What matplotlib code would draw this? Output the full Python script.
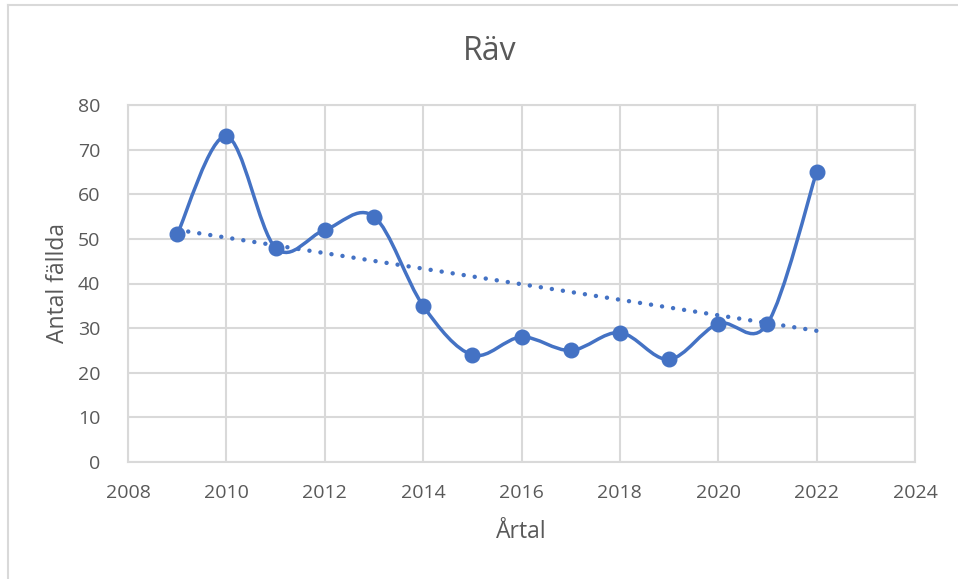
import numpy as np
import matplotlib
matplotlib.use('Agg')
import matplotlib.pyplot as plt
from matplotlib.path import Path
from matplotlib.patches import PathPatch
from matplotlib.lines import Line2D

plt.rcParams['font.family'] = ['Open Sans', 'DejaVu Sans']

years = [2009, 2010, 2011, 2012, 2013, 2014, 2015, 2016, 2017, 2018, 2019, 2020, 2021, 2022]
antal = [51, 73, 48, 52, 55, 35, 24, 28, 25, 29, 23, 31, 31, 65]
x_ticks = [2008, 2010, 2012, 2014, 2016, 2018, 2020, 2022, 2024]
y_ticks = [0, 10, 20, 30, 40, 50, 60, 70, 80]

blue = '#4472C4'
grid = '#d9d9d9'
text = '#595959'

W, H = 958, 579
fig = plt.figure(figsize=(W / 100, H / 100), dpi=100)
ax = fig.add_axes([128 / W, 1 - 462 / H, (915 - 128) / W, (462 - 105) / H])

# smoothed line like Excel (bezier segments through the points)
x = np.array(years, dtype=float)
y = np.array(antal, dtype=float)
pts = np.column_stack([x, y])
verts = [pts[0]]
codes = [Path.MOVETO]
n = len(pts)
for i in range(n - 1):
    p0 = pts[i - 1] if i > 0 else pts[i]
    p1 = pts[i]
    p2 = pts[i + 1]
    p3 = pts[i + 2] if i + 2 < n else pts[i + 1]
    c1 = p1 + (p2 - p0) / 6
    c2 = p2 - (p3 - p1) / 6
    verts += [c1, c2, p2]
    codes += [Path.CURVE4] * 3
ax.add_patch(PathPatch(Path(verts, codes), fill=False, edgecolor=blue, lw=2.5,
                       capstyle='round', joinstyle='round', zorder=3))
ax.plot(years, antal, 'o', color=blue, markersize=10.5, zorder=4)

# linear trend line
k, m = np.polyfit(x, y, 1)
tx = np.array([years[0], years[-1]])
ax.plot(tx, k * tx + m, color=blue, lw=3.2, linestyle=(0, (0.01, 2.5)),
        dash_capstyle='round', zorder=2)

ax.set_xlim(2008, 2024)
ax.set_ylim(0, 80)
ax.set_xticks(x_ticks)
ax.set_yticks(y_ticks)
ax.grid(True, color=grid, lw=1.5)
ax.set_axisbelow(True)
for s in ax.spines.values():
    s.set_color(grid)
    s.set_linewidth(1.5)
ax.tick_params(length=0, labelsize=14, labelcolor=text)
ax.tick_params(axis='x', pad=16)
ax.tick_params(axis='y', pad=20)

fig.text(490 / W, 1 - 52 / H, 'Räv', ha='center', va='center', fontsize=23, color=text)
fig.text(521 / W, 1 - 532 / H, 'Årtal', ha='center', va='center', fontsize=16.5, color=text)
fig.text(58 / W, 1 - 283 / H, 'Antal fällda', ha='center', va='center', rotation=90,
         fontsize=16.5, color=text)

# chart area border (left and top visible)
fig.add_artist(Line2D([8 / W, 8 / W], [-0.1, 1 - 5 / H], color=grid, lw=1.5))
fig.add_artist(Line2D([8 / W, 1.1], [1 - 5 / H, 1 - 5 / H], color=grid, lw=1.5))

fig.savefig('out.png', dpi=100, facecolor='white')
